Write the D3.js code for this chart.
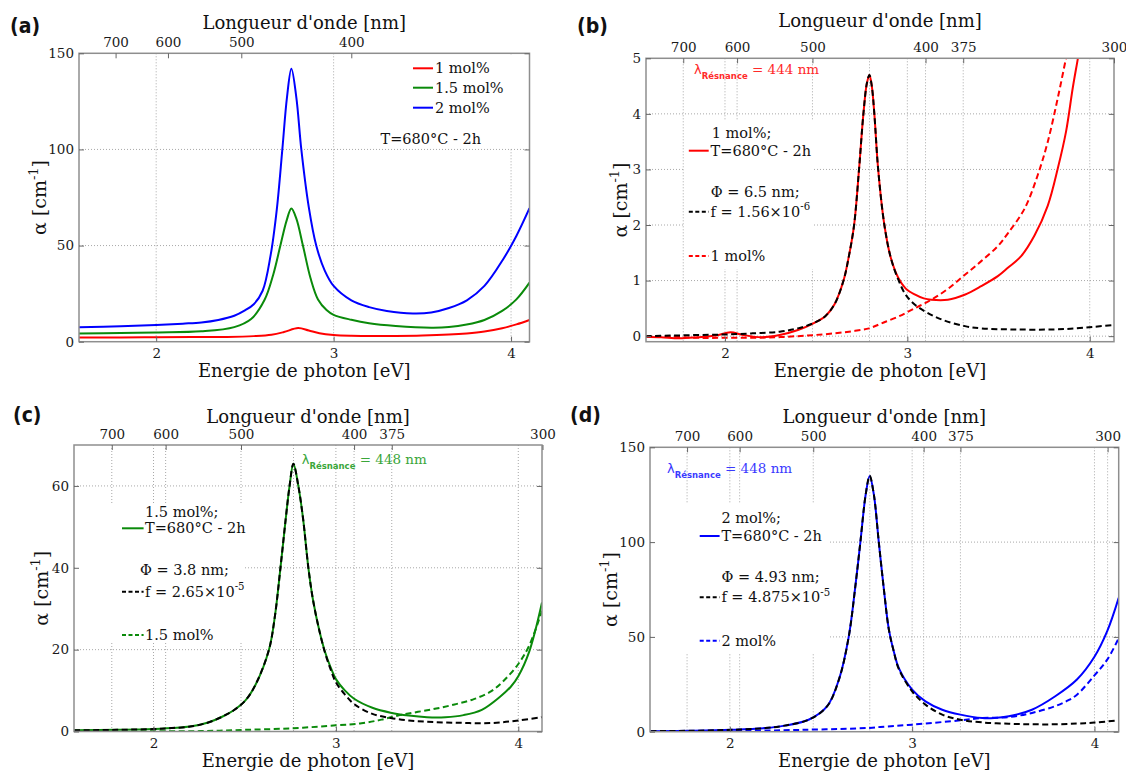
<!DOCTYPE html>
<html><head><meta charset="utf-8">
<script src="https://cdn.jsdelivr.net/npm/d3@7"></script>
<style>body{margin:0;background:#fff} svg{display:block}</style>
</head><body>
<svg id="c" width="1126" height="774"></svg>
<script>
// ---------------- DATA ----------------
const energyTicks = [2, 3, 4];
const nmTicksA = [700, 600, 500, 400];
const nmTicks = [700, 600, 500, 400, 375, 300];
const yTicksA = [0, 50, 100, 150];
const yTicksB = [0, 1, 2, 3, 4, 5];
const yTicksC = [0, 20, 40, 60];
const yTicksD = [0, 50, 100, 150];
const resonanceB = 444, resonanceC = 448, resonanceD = 448;

// panel (a) : [photon energy eV, alpha cm-1]
const a_1mol = [[1.565,2.2],[1.8,2.2],[2.0,2.3],[2.2,2.4],[2.4,2.5],[2.55,2.9],[2.65,3.6],[2.72,5.0],[2.8,7.1],[2.86,5.8],[2.92,4.4],[3.0,3.5],[3.1,3.1],[3.2,3.0],[3.35,3.0],[3.5,3.2],[3.65,3.7],[3.75,4.3],[3.85,5.3],[3.95,7.0],[4.03,9.0],[4.104,11.3]];
const a_15mol = [[1.565,4.3],[1.8,4.5],[2.0,4.8],[2.255,5.4],[2.44,7.6],[2.535,11.8],[2.611,21.8],[2.66,35],[2.70,50],[2.735,63],[2.762,69.3],[2.79,64],[2.827,50],[2.87,33],[2.912,22],[2.96,16.5],[3.0,14],[3.1,11.4],[3.2,9.6],[3.35,8.2],[3.55,7.3],[3.65,7.6],[3.75,8.9],[3.85,11.3],[3.95,16],[4.03,22],[4.104,30.7]];
const a_2mol = [[1.565,7.5],[1.8,8.0],[2.0,8.7],[2.15,9.4],[2.255,10.0],[2.35,11.3],[2.44,13.5],[2.5,16.3],[2.55,19.5],[2.6,26.5],[2.645,45],[2.68,69],[2.711,100],[2.737,127],[2.762,142],[2.79,127],[2.818,100],[2.86,70],[2.902,50],[2.95,37],[3.0,29],[3.1,21.5],[3.2,18],[3.3,16],[3.447,14.7],[3.55,15.2],[3.65,17.5],[3.751,21.5],[3.85,29],[3.953,42.5],[4.03,55],[4.104,69.4]];

// panel (b) : 1 mol%
const b_measured = [[1.565,-0.01],[1.65,-0.02],[1.75,-0.04],[1.85,-0.02],[1.95,0.01],[2.03,0.07],[2.1,0.02],[2.2,-0.02],[2.3,0.02],[2.4,0.11],[2.49,0.24],[2.55,0.36],[2.6,0.57],[2.65,1.0],[2.68,1.45],[2.708,2.0],[2.735,3.0],[2.759,4.0],[2.778,4.55],[2.792,4.7],[2.805,4.5],[2.819,4.0],[2.84,3.0],[2.874,2.0],[2.91,1.4],[2.95,1.05],[2.99,0.86],[3.04,0.75],[3.09,0.68],[3.131,0.655],[3.222,0.655],[3.314,0.745],[3.405,0.9],[3.496,1.08],[3.551,1.23],[3.624,1.44],[3.697,1.81],[3.77,2.35],[3.825,3.02],[3.87,3.68],[3.907,4.47],[3.935,5.0],[3.95,5.3]];
const b_fit = [[1.565,0.0],[1.7,0.01],[1.85,0.02],[2.0,0.03],[2.15,0.05],[2.3,0.08],[2.4,0.14],[2.49,0.24],[2.55,0.36],[2.6,0.57],[2.65,1.0],[2.68,1.45],[2.708,2.0],[2.735,3.0],[2.759,4.0],[2.778,4.55],[2.792,4.7],[2.805,4.5],[2.819,4.0],[2.84,3.0],[2.874,2.0],[2.91,1.4],[2.95,1.02],[2.99,0.75],[3.04,0.57],[3.11,0.42],[3.196,0.29],[3.316,0.18],[3.407,0.14],[3.59,0.12],[3.8,0.12],[3.927,0.14],[4.03,0.17],[4.133,0.2]];
const b_ref = [[1.565,0.0],[1.7,-0.01],[1.85,-0.03],[2.0,-0.03],[2.15,-0.03],[2.28,-0.02],[2.4,0.0],[2.49,0.02],[2.6,0.05],[2.7,0.09],[2.79,0.14],[2.858,0.23],[2.949,0.35],[3.04,0.5],[3.131,0.655],[3.222,0.85],[3.314,1.1],[3.405,1.35],[3.496,1.62],[3.551,1.85],[3.642,2.29],[3.715,2.9],[3.77,3.5],[3.825,4.29],[3.87,5.0],[3.89,5.3]];

// panel (c) : 1.5 mol%
const c_measured = [[1.565,0.3],[1.8,0.4],[2.0,0.6],[2.1,0.85],[2.2,1.2],[2.3,2.2],[2.376,3.6],[2.44,5.2],[2.504,7.6],[2.56,11.5],[2.633,20],[2.665,28],[2.696,40],[2.725,52],[2.746,60],[2.767,65.4],[2.794,60],[2.82,52],[2.849,40],[2.875,32],[2.91,24.5],[2.94,19.5],[2.97,15.8],[3.0,12.8],[3.05,10],[3.1,8.0],[3.2,5.8],[3.3,4.6],[3.4,3.9],[3.5,3.5],[3.6,3.5],[3.7,4.0],[3.8,5.3],[3.9,8.5],[3.96,11],[4.0,13.5],[4.06,19.5],[4.13,31.5]];
const c_fit = [[1.565,0.3],[1.8,0.4],[2.0,0.6],[2.1,0.85],[2.2,1.2],[2.3,2.2],[2.376,3.6],[2.44,5.2],[2.504,7.6],[2.56,11.5],[2.633,20],[2.665,28],[2.696,40],[2.725,52],[2.746,60],[2.767,65.4],[2.794,60],[2.82,52],[2.849,40],[2.875,32],[2.91,24.5],[2.94,19.3],[2.97,15.3],[3.0,12.0],[3.05,9.0],[3.1,6.7],[3.2,4.3],[3.3,3.3],[3.4,2.7],[3.5,2.4],[3.6,2.2],[3.7,2.1],[3.8,2.0],[3.9,2.2],[4.0,2.7],[4.13,3.5]];
const c_ref = [[1.565,0.0],[1.8,0.0],[2.0,0.05],[2.255,0.1],[2.5,0.4],[2.767,0.8],[3.0,1.5],[3.14,2.0],[3.25,2.9],[3.35,4.0],[3.45,4.8],[3.55,5.6],[3.65,6.6],[3.75,7.8],[3.85,9.8],[3.92,12.4],[4.0,16.5],[4.06,21],[4.13,29.5]];

// panel (d) : 2 mol%
const d_measured = [[1.565,0.3],[1.8,0.5],[2.01,1.0],[2.194,1.9],[2.3,3.2],[2.432,6.3],[2.533,13.3],[2.6,28],[2.652,50],[2.69,78],[2.716,100],[2.745,125],[2.767,134.9],[2.79,125],[2.817,100],[2.845,75],[2.872,54],[2.9,42],[2.927,33.5],[3.0,22.2],[3.073,16],[3.165,11.6],[3.265,9],[3.384,7.2],[3.45,7.2],[3.53,8.1],[3.657,11.6],[3.785,18.7],[3.904,27.5],[4.0,39.5],[4.07,53],[4.133,70.6]];
const d_fit = [[1.565,0.3],[1.8,0.5],[2.01,1.0],[2.194,1.9],[2.3,3.2],[2.432,6.3],[2.533,13.3],[2.6,28],[2.652,50],[2.69,78],[2.716,100],[2.745,125],[2.767,134.9],[2.79,125],[2.817,100],[2.845,75],[2.872,54],[2.9,42],[2.927,33],[3.0,21.3],[3.073,14.3],[3.165,9],[3.265,6.3],[3.384,4.9],[3.53,4.2],[3.657,3.9],[3.785,3.9],[3.904,4.3],[4.0,4.8],[4.133,6]];
const d_ref = [[1.565,0.0],[1.8,0.1],[2.0,0.3],[2.4,1.0],[2.767,2.0],[2.825,2.5],[3.0,3.7],[3.265,6.0],[3.384,7.2],[3.53,7.7],[3.657,9.9],[3.785,13.5],[3.855,16.5],[3.904,19.5],[4.0,29.7],[4.07,38],[4.133,49.3]];

// ---------------- DRAWING ----------------
const HC = 1239.84; // eV*nm
const SERIF = "'DejaVu Serif', serif";
const SANS = "'DejaVu Sans', sans-serif";
const RED = "#ff0000", GREEN = "#0a8a0a", BLUE = "#0000ff";
const svg = d3.select('#c');

function supText(sel, base, sup, size) {
  sel.append('tspan').text(base);
  sel.append('tspan').attr('dy', -size*0.45).attr('font-size', size*0.7).text(sup);
}

function drawPanel(p, idx) {
  const g = svg.append('g');
  const x = d3.scaleLinear().domain(p.xDomain).range([p.x0, p.x1]);
  const xt = d3.scaleLinear().domain(p.topDomain || p.xDomain).range([p.x0, p.x1]);
  const y = d3.scaleLinear().domain(p.yDomain).range([p.y1, p.y0]);
  const nmE = p.nmTicks.map(n => HC / n);

  // grid
  const grid = g.append('g').attr('stroke', '#a8a8a8').attr('stroke-width', 1).attr('stroke-dasharray', '1,2').attr('fill', 'none');
  p.yTicks.filter(v => y(v) < p.y1 - 1 && y(v) > p.y0 + 1).forEach(v =>
    grid.append('line').attr('x1', p.x0).attr('x2', p.x1).attr('y1', y(v)).attr('y2', y(v)));
  energyTicks.forEach(v => grid.append('line').attr('x1', x(v)).attr('x2', x(v)).attr('y1', p.y0).attr('y2', p.y1));
  if (p.nmGrid) {
    nmE.filter(e => xt(e) < p.x1 - 1).forEach(e => grid.append('line').attr('x1', xt(e)).attr('x2', xt(e)).attr('y1', p.y0).attr('y2', p.y1));
  }
  if (p.resonance) {
    const e = HC / p.resonance;
    grid.append('line').attr('x1', x(e)).attr('x2', x(e)).attr('y1', p.y0).attr('y2', p.y1);
  }
  // legend background
  if (p.legendBox) {
    const b = p.legendBox;
    g.append('rect').attr('x', b[0]).attr('y', b[1]).attr('width', b[2]).attr('height', b[3]).attr('fill', '#fff');
  }

  // curves
  const clipId = 'clip' + idx;
  svg.append('clipPath').attr('id', clipId).append('rect')
    .attr('x', p.x0).attr('y', p.y0).attr('width', p.x1 - p.x0).attr('height', p.y1 - p.y0);
  const line = d3.line().x(d => x(d[0])).y(d => y(d[1])).curve(d3.curveCatmullRom.alpha(0.5));
  const cg = g.append('g').attr('clip-path', `url(#${clipId})`);
  p.series.forEach(s => {
    cg.append('path').datum(s.data).attr('d', line).attr('fill', 'none')
      .attr('stroke', s.color).attr('stroke-width', s.width || 2)
      .attr('stroke-dasharray', s.dash ? '6,3.5' : null)
      .attr('stroke-linejoin', 'round');
  });

  // frame
  g.append('rect').attr('x', p.x0).attr('y', p.y0).attr('width', p.x1 - p.x0).attr('height', p.y1 - p.y0)
    .attr('fill', 'none').attr('stroke', '#8e8e8e').attr('stroke-width', 1.5);

  // axes
  const styleAxis = ax => {
    ax.select('.domain').remove();
    ax.attr('font-family', SERIF).attr('font-size', 13.5);
    ax.selectAll('line').attr('stroke', '#666');
    ax.selectAll('text').attr('fill', '#1a1a1a');
  };
  g.append('g').attr('transform', `translate(0,${p.y1})`)
    .call(d3.axisBottom(x).tickValues(energyTicks).tickFormat(d3.format('d')).tickSize(-5).tickPadding(7)).call(styleAxis);
  g.append('g').attr('transform', `translate(0,${p.y0})`)
    .call(d3.axisTop(xt).tickValues(nmE).tickFormat((d, i) => p.nmTicks[i]).tickSize(-5).tickPadding(6)).call(styleAxis);
  g.append('g').attr('transform', `translate(${p.x0},0)`)
    .call(d3.axisLeft(y).tickValues(p.yTicks).tickFormat(d3.format('d')).tickSize(-5).tickPadding(5)).call(styleAxis);
  g.append('g').attr('transform', `translate(${p.x1},0)`)
    .call(d3.axisRight(y).tickValues(p.yTicks).tickFormat('').tickSize(-5)).call(styleAxis);

  // titles
  const cx = (p.x0 + p.x1) / 2;
  g.append('text').attr('x', cx).attr('y', p.topTitleY).attr('text-anchor', 'middle')
    .attr('font-family', SERIF).attr('font-size', 18).attr('fill', '#111').text("Longueur d'onde [nm]");
  g.append('text').attr('x', cx).attr('y', p.botTitleY).attr('text-anchor', 'middle')
    .attr('font-family', SERIF).attr('font-size', 18).attr('fill', '#111').text('Energie de photon [eV]');
  const yl = g.append('text').attr('transform', `translate(${p.yLabelX},${(p.y0 + p.y1) / 2}) rotate(-90)`)
    .attr('text-anchor', 'middle').attr('font-family', SERIF).attr('font-size', 19).attr('fill', '#111');
  yl.append('tspan').text('α [cm');
  yl.append('tspan').attr('dy', -8).attr('font-size', 13).text('-1');
  yl.append('tspan').attr('dy', 8).text(']');
  g.append('text').attr('x', p.labelX).attr('y', p.labelY)
    .attr('font-family', "'Liberation Sans Narrow', 'DejaVu Sans Condensed', sans-serif")
    .attr('font-weight', 'bold').attr('font-size', 21).attr('fill', '#111').text(p.label);

  // legend & annotations
  const lg = g.append('g').attr('font-family', SERIF).attr('font-size', 14.5).attr('fill', '#111');
  (p.legend || []).forEach(it => {
    if (it.line) {
      lg.append('line').attr('x1', it.line[0]).attr('x2', it.line[1]).attr('y1', it.y).attr('y2', it.y)
        .attr('stroke', it.color).attr('stroke-width', 2).attr('stroke-dasharray', it.dash ? '4,2.5' : null);
    }
    if (it.text !== undefined) {
      const t = lg.append('text').attr('x', it.x).attr('y', it.y).attr('dy', '0.35em');
      if (it.sup) supText(t, it.text, it.sup, 14.5); else t.text(it.text);
    }
  });
  if (p.lambda) {
    const L = p.lambda;
    const t = g.append('text').attr('x', L.x).attr('y', L.y).attr('dy', '0.35em').attr('fill', L.color);
    t.append('tspan').attr('font-family', SANS).attr('font-size', 13).text('λ');
    t.append('tspan').attr('font-family', SANS).attr('font-weight', 'bold').attr('font-size', 8.5).attr('dy', 5).text('Résnance');
    t.append('tspan').attr('font-family', SERIF).attr('font-size', 13.5).attr('dy', -5).text(' = ' + L.nm + ' nm');
  }
}

const panels = [
  { label: '(a)', labelX: 10, labelY: 33, x0: 79, x1: 529.5, y0: 53.3, y1: 341.7,
    xDomain: [1.565, 4.104], yDomain: [0, 150], yTicks: yTicksA, nmTicks: nmTicksA, nmGrid: false,
    topTitleY: 29, botTitleY: 377, yLabelX: 46,
    legendBox: [409, 55, 119, 93],
    series: [
      { data: a_1mol, color: RED }, { data: a_15mol, color: GREEN }, { data: a_2mol, color: BLUE }],
    legend: [
      { line: [413, 433], y: 68.3, color: RED, x: 435, text: '1 mol%' },
      { line: [413, 433], y: 87.7, color: GREEN, x: 435, text: '1.5 mol%' },
      { line: [413, 433], y: 107.7, color: BLUE, x: 435, text: '2 mol%' },
      { x: 380.5, y: 139.3, text: 'T=680°C - 2h' }] },
  { label: '(b)', labelX: 577, labelY: 33, x0: 646, x1: 1114, y0: 58.3, y1: 341.7,
    xDomain: [1.567, 4.133], yDomain: [-0.1, 5.0], yTicks: yTicksB, nmTicks: nmTicks, nmGrid: true,
    resonance: resonanceB, topTitleY: 27, botTitleY: 377, yLabelX: 627,
    legendBox: [685, 121, 128, 148],
    series: [
      { data: b_ref, color: RED, dash: true }, { data: b_measured, color: RED }, { data: b_fit, color: '#000', dash: true }],
    legend: [
      { x: 711.7, y: 133, text: '1 mol%;' },
      { line: [688.8, 708.7], y: 150.7, color: RED, x: 710.6, text: 'T=680°C - 2h' },
      { x: 710.7, y: 191.7, text: 'Φ = 6.5 nm;' },
      { line: [688.8, 708.7], y: 211.7, color: '#000', dash: true, x: 710.6, text: 'f = 1.56×10', sup: '-6' },
      { line: [688.8, 708.7], y: 256, color: RED, dash: true, x: 710.6, text: '1 mol%' }],
    lambda: { x: 694, y: 68, color: '#ff2a2a', nm: resonanceB } },
  { label: '(c)', labelX: 13, labelY: 422, x0: 74, x1: 542, y0: 445, y1: 731.5,
    xDomain: [1.564, 4.13], yDomain: [0, 70], yTicks: yTicksC, nmTicks: nmTicks, nmGrid: true,
    resonance: resonanceC, topTitleY: 423, botTitleY: 767, yLabelX: 48,
    legendBox: [75, 503, 170, 140],
    series: [
      { data: c_ref, color: GREEN, dash: true }, { data: c_measured, color: GREEN }, { data: c_fit, color: '#000', dash: true }],
    legend: [
      { x: 145, y: 511.7, text: '1.5 mol%;' },
      { line: [122, 143.6], y: 528.3, color: GREEN, x: 145, text: 'T=680°C - 2h' },
      { x: 140, y: 570, text: 'Φ = 3.8 nm;' },
      { line: [122, 143.6], y: 591.7, color: '#000', dash: true, x: 145, text: 'f = 2.65×10', sup: '-5' },
      { line: [122, 143.6], y: 635, color: GREEN, dash: true, x: 145, text: '1.5 mol%' }],
    lambda: { x: 301.7, y: 458.3, color: '#3aa63a', nm: resonanceC } },
  { label: '(d)', labelX: 570, labelY: 422, x0: 650, x1: 1118.7, y0: 447.3, y1: 731.7,
    xDomain: [1.562, 4.133], topDomain: [1.563, 4.195], yDomain: [0, 150], yTicks: yTicksD, nmTicks: nmTicks, nmGrid: true,
    resonance: resonanceD, topTitleY: 423, botTitleY: 767, yLabelX: 617,
    legendBox: [651, 503, 178, 150],
    series: [
      { data: d_ref, color: BLUE, dash: true }, { data: d_measured, color: BLUE }, { data: d_fit, color: '#000', dash: true }],
    legend: [
      { x: 721.4, y: 518.3, text: '2 mol%;' },
      { line: [699.7, 719.6], y: 536, color: BLUE, x: 721.4, text: 'T=680°C - 2h' },
      { x: 721.4, y: 576.7, text: 'Φ = 4.93 nm;' },
      { line: [699.7, 719.6], y: 597.3, color: '#000', dash: true, x: 721.4, text: 'f = 4.875×10', sup: '-5' },
      { line: [699.7, 719.6], y: 640.7, color: BLUE, dash: true, x: 721.4, text: '2 mol%' }],
    lambda: { x: 667, y: 467.7, color: '#3a3aff', nm: resonanceD } }
];

panels.forEach((p, i) => drawPanel(p, i));
</script>
</body></html>
